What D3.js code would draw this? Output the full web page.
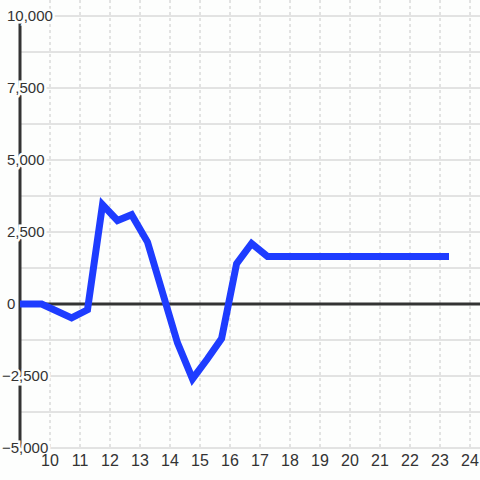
<!DOCTYPE html>
<head>
  <meta charset="utf-8">
  <script src="https://cdn.jsdelivr.net/npm/d3@7"></script>
  <style>
    body { margin: 0; background: #fdfefd; }
    text { font-family: "Liberation Sans", Arial, sans-serif; font-size: 16px; fill: #333; }
    .ylab { font-size: 15px; }
  </style>
</head>
<body>
<script>
const W = 480;
const H = 480;
const BG = "#fdfefd";

// data
const hours  = [9, 9.72, 10.72, 11.25, 11.75, 12.25, 12.72, 13.25, 14.25, 14.75, 15.25, 15.72, 16.22, 16.72, 17.25, 23.3];
const values = [0, 0, -480, -200, 3450, 2900, 3100, 2150, -1350, -2600, -1900, -1200, 1400, 2100, 1650, 1650];
const xTicks = [10, 11, 12, 13, 14, 15, 16, 17, 18, 19, 20, 21, 22, 23, 24];
const yTicks = [-5000, -2500, 0, 2500, 5000, 7500, 10000];
const yGrid  = [-5000, -3750, -2500, -1250, 0, 1250, 2500, 3750, 5000, 6250, 7500, 8750, 10000];

const data = hours.map((h, i) => ({h: h, v: values[i]}));

const svg = d3.select("body").append("svg")
  .attr("width", W)
  .attr("height", H)
  .style("display", "block")
  .style("background", BG);

const x = d3.scaleLinear().domain([9, 24 + 1/3]).range([20, 480]);
const y = d3.scaleLinear().domain([-5000, 10000]).range([448, 16]);

// vertical dashed grid
svg.append("g").selectAll("line").data(xTicks).join("line")
  .attr("x1", d => x(d)).attr("x2", d => x(d))
  .attr("y1", 0).attr("y2", y(-5000))
  .attr("stroke", "#c8c8c8")
  .attr("stroke-dasharray", "3,3");

// horizontal grid
svg.append("g").selectAll("line").data(yGrid).join("line")
  .attr("x1", x(9)).attr("x2", W)
  .attr("y1", d => y(d)).attr("y2", d => y(d))
  .attr("stroke", "#c8c8c8");

// left axis line + zero line
svg.append("line")
  .attr("x1", x(9)).attr("x2", x(9))
  .attr("y1", y(10000)).attr("y2", y(-5000))
  .attr("stroke", "#333").attr("stroke-width", 3);

svg.append("line")
  .attr("x1", x(9)).attr("x2", W)
  .attr("y1", y(0)).attr("y2", y(0))
  .attr("stroke", "#333").attr("stroke-width", 3);

// y labels with halo
svg.append("g").selectAll("text").data(yTicks).join("text")
  .attr("class", "ylab")
  .attr("x", d => d < 0 ? 2 : 7)
  .attr("y", d => y(d))
  .attr("dy", "0.35em")
  .attr("stroke", BG)
  .attr("stroke-width", 5)
  .attr("paint-order", "stroke")
  .text(d => d3.format(",")(d));

// x labels
svg.append("g").selectAll("text").data(xTicks).join("text")
  .attr("x", d => x(d))
  .attr("y", 466)
  .attr("text-anchor", "middle")
  .text(d => d);

// the series
const line = d3.line()
  .x(d => x(d.h))
  .y(d => y(d.v));

svg.append("path")
  .datum(data)
  .attr("d", line)
  .attr("fill", "none")
  .attr("stroke", "#1e3cff")
  .attr("stroke-width", 7)
  .attr("stroke-linejoin", "miter");
</script>
</body>
